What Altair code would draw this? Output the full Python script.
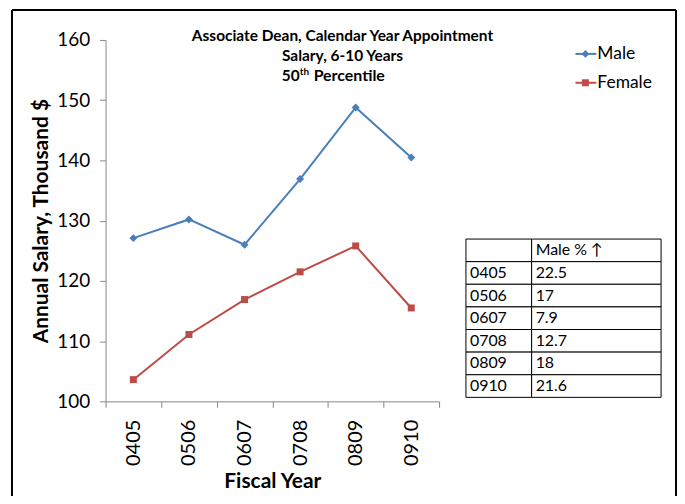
import altair as alt
import pandas as pd

# ---- data ----
years = ["0405", "0506", "0607", "0708", "0809", "0910"]
male = [127.1, 130.2, 126.0, 136.9, 148.8, 140.5]
female = [103.6, 111.1, 116.9, 121.5, 125.8, 115.5]
series = ["Male", "Female"]
colors = ["#4A7EBB", "#BE4B48"]
shapes = ["diamond", "square"]
marker_sizes = [64, 49]
y_ticks = [100, 110, 120, 130, 140, 150, 160]
table_rows = ["hdr"] + years
table_col1 = [""] + years
table_col2 = ["Male % \u2191", "22.5", "17", "7.9", "12.7", "18", "21.6"]
title_lines = ["Associate Dean, Calendar Year Appointment", "Salary, 6-10 Years"]
title_pct = ["50", "th", "Percentile"]

FONT = "Lato"

df = pd.DataFrame({
    "year": years * 2,
    "salary": male + female,
    "series": ["Male"] * len(years) + ["Female"] * len(years),
})
legend_df = pd.DataFrame({"series": series})
table_df = pd.DataFrame({"row": table_rows, "c1": table_col1, "c2": table_col2})

color = alt.Color("series:N", scale=alt.Scale(domain=series, range=colors), legend=None)
shape = alt.Shape("series:N", scale=alt.Scale(domain=series, range=shapes), legend=None)
size = alt.Size("series:O", scale=alt.Scale(domain=series, range=marker_sizes), legend=None)

x = alt.X(
    "year:N", sort=years,
    scale=alt.Scale(type="band", domain=years, paddingInner=0, paddingOuter=0),
    axis=alt.Axis(title="Fiscal Year", tickBand="extent", labelAngle=-90,
                  labelFontSize=20, labelColor="black", labelPadding=12,
                  tickSize=6, titleFontSize=21, titleFontWeight="bold",
                  titleColor="black", titlePadding=5, grid=False),
)
y = alt.Y(
    "salary:Q",
    scale=alt.Scale(domain=[100, 160], nice=False, zero=False),
    axis=alt.Axis(title="Annual Salary, Thousand $", values=y_ticks,
                  labelFontSize=19, labelColor="black", labelPadding=10,
                  tickSize=6, titleFontSize=21, titleFontWeight="bold",
                  titleColor="black", titlePadding=5, grid=False),
)

base = alt.Chart(df)
lines = base.mark_line(strokeWidth=2).encode(x=x, y=y, color=color)
points = base.mark_point(filled=True, opacity=1).encode(x=x, y=y, color=color, shape=shape, size=size)

def txt(text, px, py, fs=15.5, bold=True, align="center"):
    return alt.Chart(pd.DataFrame({"t": [text]})).mark_text(
        font=FONT, fontSize=fs, fontWeight="bold" if bold else "normal",
        align=align, baseline="middle", color="black"
    ).encode(text="t:N", x=alt.value(px), y=alt.value(py))

title1 = txt(title_lines[0], 238, -4)
title2 = txt(title_lines[1], 238, 16)
title3a = txt(title_pct[0], 195, 36, align="right")
title3b = txt(title_pct[1], 195, 32, fs=10, align="left")
title3c = txt(title_pct[2], 209, 36, fs=16, align="left")

def vrule(px):
    return alt.Chart(pd.DataFrame({"a": [0]})).mark_rule(color="black", strokeWidth=2).encode(
        x=alt.value(px), y=alt.value(-30), y2=alt.value(460))

border_top = alt.Chart(pd.DataFrame({"a": [0]})).mark_rule(color="black", strokeWidth=2).encode(
    x=alt.value(-94), x2=alt.value(573), y=alt.value(-30))
border_l = vrule(-94)
border_r = vrule(573)

main = alt.layer(lines, points, title1, title2, title3a, title3b, title3c,
                 border_top, border_l, border_r)

# ---- table ----
row_y = alt.Y("row:N", sort=table_rows,
              scale=alt.Scale(type="band", domain=table_rows, range=[200, 359],
                              paddingInner=0, paddingOuter=0), axis=None)
tbase = alt.Chart(table_df)
cell1 = tbase.mark_rect(fill="white", stroke="black", strokeWidth=1).encode(
    y=row_y, x=alt.value(362), x2=alt.value(428))
cell2 = tbase.mark_rect(fill="white", stroke="black", strokeWidth=1).encode(
    y=row_y, x=alt.value(428), x2=alt.value(558))
ttext1 = tbase.mark_text(font=FONT, fontSize=16, align="left", baseline="middle", color="black").encode(
    y=row_y, x=alt.value(366), text="c1:N")
ttext2 = tbase.mark_text(font=FONT, fontSize=16, align="left", baseline="middle", color="black").encode(
    y=row_y, x=alt.value(432), text="c2:N")

# ---- legend ----
leg_y = alt.Y("series:N", sort=series,
              scale=alt.Scale(type="point", domain=series, range=[14, 43], padding=0), axis=None)
lbase = alt.Chart(legend_df)
leg_rule = lbase.mark_rule(strokeWidth=2).encode(
    y=leg_y, x=alt.value(472), x2=alt.value(493), color=color)
leg_pt = lbase.mark_point(filled=True, opacity=1).encode(
    y=leg_y, x=alt.value(482), color=color, shape=shape, size=size)
leg_txt = lbase.mark_text(font=FONT, fontSize=17.5, align="left", baseline="middle", color="black").encode(
    y=leg_y, x=alt.value(494), text="series:N")

chart = alt.layer(
    main, cell1, cell2, ttext1, ttext2, leg_rule, leg_pt, leg_txt
).resolve_scale(y="independent").properties(
    width=335, height=363,
    autosize=alt.AutoSizeParams(type="none"),
    padding={"left": 98, "top": 31, "right": 239, "bottom": 94},
).configure_axis(
    labelFont=FONT, titleFont=FONT, domainColor="#868686", tickColor="#868686",
).configure_view(stroke=None)

chart.save("out.html", embed_options={"renderer": "svg", "actions": False})
